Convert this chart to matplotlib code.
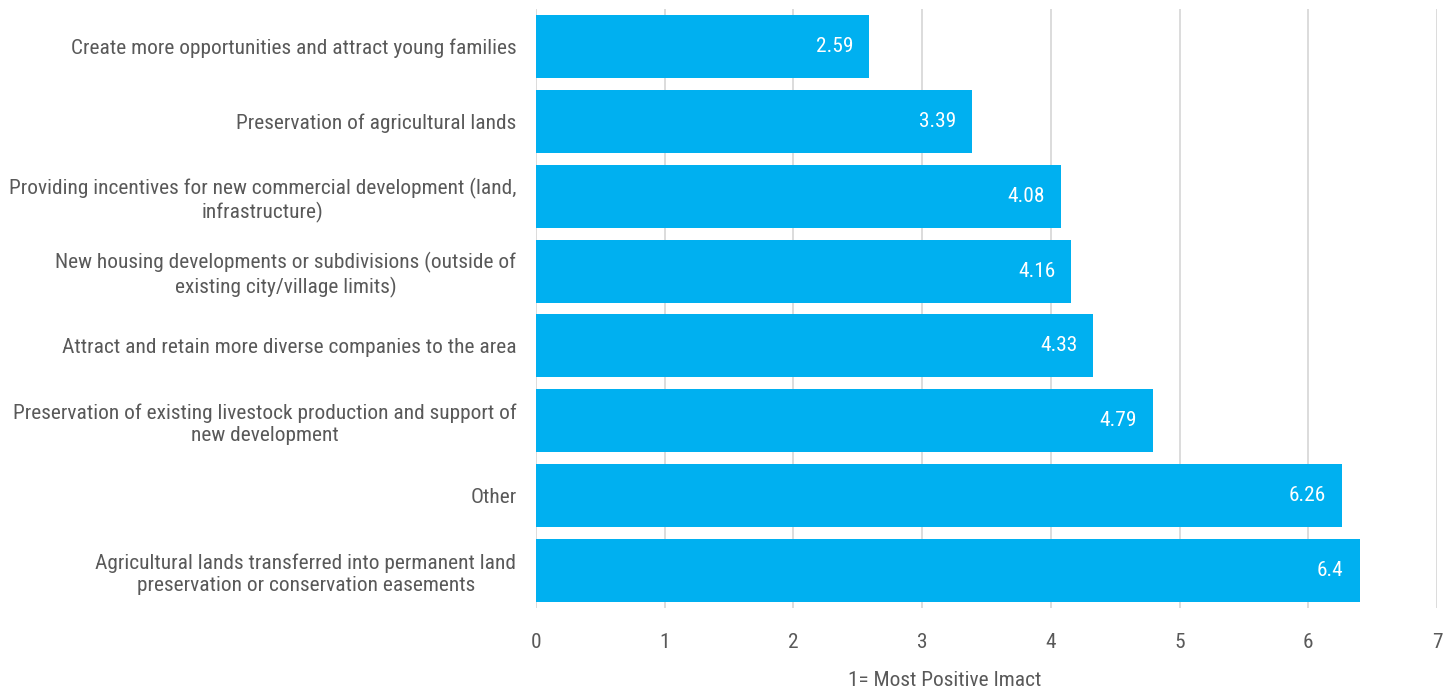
import matplotlib.pyplot as plt
from matplotlib import font_manager

categories = [
    "Create more opportunities and attract young families",
    "Preservation of agricultural lands",
    "Providing incentives for new commercial development (land,\ninfrastructure)",
    "New housing developments or subdivisions (outside of\nexisting city/village limits)",
    "Attract and retain more diverse companies to the area",
    "Preservation of existing livestock production and support of\nnew development",
    "Other",
    "Agricultural lands transferred into permanent land\npreservation or conservation easements",
]
scores = [2.59, 3.39, 4.08, 4.16, 4.33, 4.79, 6.26, 6.4]
score_labels = ["2.59", "3.39", "4.08", "4.16", "4.33", "4.79", "6.26", "6.4"]
xticks = [0, 1, 2, 3, 4, 5, 6, 7]

# pick a condensed face if one is installed, else plain Roboto
names = {f.name for f in font_manager.fontManager.ttflist}
condensed = [n for n in names if "Condensed" in n]
if "Roboto Condensed" in names:
    family, size = "Roboto Condensed", 15.4
elif condensed:
    family, size = sorted(condensed)[0], 14
else:
    family, size = "Roboto", 13
plt.rcParams["font.family"] = [family, "DejaVu Sans"]

text_gray = "#595959"
bar_blue = "#00B0F0"

fig = plt.figure(figsize=(14.54, 6.9), dpi=100)
ax = fig.add_axes([0.3686, 0.1188, 0.6197, 0.8682])

y = list(range(len(categories)))
ax.barh(y, scores, height=0.84, color=bar_blue, zorder=3)

for yi, v, lab in zip(y, scores, score_labels):
    ax.annotate(lab, (v, yi), xytext=(-11.5, 0), textcoords="offset points",
                ha="right", va="center", color="white", fontsize=size)

ax.set_xlim(0, 7)
ax.set_ylim(len(categories) - 0.5, -0.5)
ax.set_xticks(xticks)
ax.set_yticks(y)
ax.set_yticklabels(categories, multialignment="center")
ax.grid(axis="x", color="#d9d9d9", linewidth=1.3, zorder=0)
for s in ax.spines.values():
    s.set_visible(False)
ax.tick_params(axis="y", length=0, pad=14, labelsize=size, labelcolor=text_gray)
ax.tick_params(axis="x", length=0, pad=18, labelsize=size, labelcolor=text_gray)
ax.set_xlabel("1= Most Positive Imact", fontsize=size, color=text_gray,
              labelpad=13.5, x=0.454)

fig.savefig("out.png", dpi=100)
